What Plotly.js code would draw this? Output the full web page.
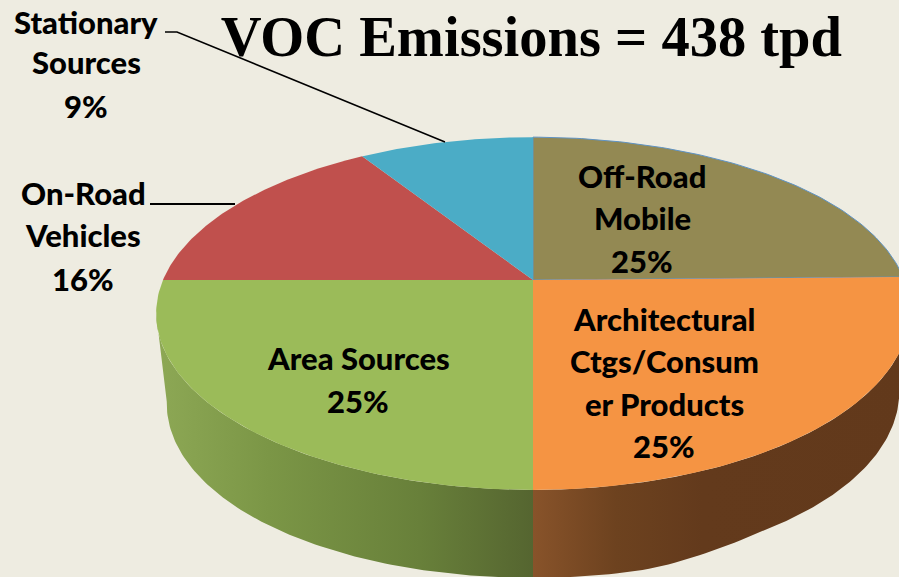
<!DOCTYPE html>
<html>
<head>
<meta charset="utf-8">
<script src="https://cdn.plot.ly/plotly-3.0.1.min.js"></script>
<style>html,body{margin:0;padding:0;background:#EEECE1;overflow:hidden}#chart{width:899px;height:577px}</style>
</head>
<body>
<div id="chart"></div>
<script>
// Data (clockwise from 12 o'clock)
var categories = ['Off-Road Mobile', 'Architectural Ctgs/Consumer Products', 'Area Sources', 'On-Road Vehicles', 'Stationary Sources'];
var shares = [25, 25, 25, 16, 9];
var sliceColors = ['#938953', '#F59443', '#9BBB59', '#C0504D', '#4BACC6'];
var labelLines = [
  ['Off-Road', 'Mobile', '25%'],
  ['Architectural', 'Ctgs/Consum', 'er Products', '25%'],
  ['Area Sources', '25%'],
  ['On-Road', 'Vehicles', '16%'],
  ['Stationary', 'Sources', '9%']
];
var labelCenterX = [642, 664, 358, 83, 86];
var labelLineY = [
  [176, 218, 261],
  [319, 361, 404, 446],
  [358, 401],
  [193, 235, 279],
  [22, 62, 106]
];
var titleText = 'VOC Emissions = 438 tpd';

// Perspective projection of the disc on the pixel-sized plot
var apexX = 533, apexY = 280, halfW = 370, persp = 0.19, vertScale = 170;
function unit(share) { return share / 100 * 2 * Math.PI; }
function topRim(t) {
  var u = Math.sin(t), v = Math.cos(t), d = 1 + persp * v;
  return [apexX + halfW * u / d, apexY - vertScale * v / d - (u > 0 ? 3 * u * u * u : 0)];
}
function smooth(a, b, x) {
  var s = Math.min(1, Math.max(0, (x - a) / (b - a)));
  return s * s * (3 - 2 * s);
}
function lowerRim(t) {
  var p = topRim(t), dx = p[0] - apexX, s = Math.sin(t);
  var depth = 88 - 9 * smooth(100, 250, dx);
  var off = (dx < 0 ? 11 : -11) * s * s;
  return [p[0] + off, p[1] + depth];
}
function range(a, b) {
  var out = [], n = 90;
  for (var i = 0; i <= n; i++) out.push(a + (b - a) * i / n);
  return out;
}

// Side walls
function wall(name, a, b, stops) {
  var ts = range(a, b), xs = [], ys = [];
  ts.forEach(function (t) { var p = topRim(t); xs.push(p[0]); ys.push(p[1]); });
  ts.slice().reverse().forEach(function (t) { var p = lowerRim(t); xs.push(p[0]); ys.push(p[1]); });
  return {
    type: 'scatter', mode: 'lines', name: name, x: xs, y: ys, fill: 'toself',
    fillgradient: { type: 'horizontal', colorscale: stops },
    line: { width: 0 }, hoverinfo: 'skip', showlegend: false
  };
}
var traces = [];
var cum = [0];
shares.forEach(function (s, i) { cum.push(cum[i] + unit(s)); });

// the widest points of the projected disc sit past the quarter boundaries
var widestLeft = cum[3] - Math.asin(persp);
var widestRight = cum[1] + Math.asin(persp);
traces.push(wall('Architectural wall', widestRight, cum[2], [
  [0, '#88532A'], [0.22, '#6D421F'], [0.45, '#633A1C'], [1, '#62391B']
]));
traces.push(wall('Area wall', cum[2], widestLeft, [
  [0, '#8DA855'], [0.3, '#7B9646'], [0.7, '#68803A'], [1, '#556530']
]));

// Top faces
shares.forEach(function (s, i) {
  var ts = range(cum[i], cum[i + 1]), xs = [apexX], ys = [apexY];
  ts.forEach(function (t) { var p = topRim(t); xs.push(p[0]); ys.push(p[1]); });
  xs.push(apexX); ys.push(apexY);
  traces.push({
    type: 'scatter', mode: 'lines', name: categories[i], x: xs, y: ys, fill: 'toself',
    fillcolor: sliceColors[i],
    line: i === 0 ? { width: 1, color: '#5F93C4' } : { width: 0 },
    hoverinfo: 'skip', showlegend: false
  });
});

// Labels
var annotations = [];
labelLines.forEach(function (lines, i) {
  lines.forEach(function (txt, j) {
    annotations.push({
      x: labelCenterX[i], y: labelLineY[i][j], xref: 'x', yref: 'y',
      text: txt, showarrow: false, xanchor: 'center', yanchor: 'middle',
      font: { family: 'Lato, Carlito, sans-serif', size: 31, color: '#000', weight: 900 }
    });
  });
});

var layout = {
  width: 899, height: 577,
  margin: { l: 0, r: 0, t: 0, b: 0 },
  paper_bgcolor: '#EEECE1', plot_bgcolor: '#EEECE1',
  title: {
    text: '<b>' + titleText + '</b>', x: 0.591, xanchor: 'center', y: 0.938, yanchor: 'middle',
    font: { family: '"Liberation Serif", serif', size: 56.5, color: '#000' }
  },
  xaxis: { range: [0, 899], visible: false, fixedrange: true },
  yaxis: { range: [577, 0], visible: false, fixedrange: true },
  shapes: [
    { type: 'path', path: 'M165,32 L177,32 L445,142', line: { color: '#000', width: 1.5 } },
    { type: 'line', x0: 150, y0: 204, x1: 235, y1: 204, line: { color: '#000', width: 2 } }
  ],
  annotations: annotations
};
Plotly.newPlot('chart', traces, layout, { displayModeBar: false, staticPlot: true });
</script>
</body>
</html>
